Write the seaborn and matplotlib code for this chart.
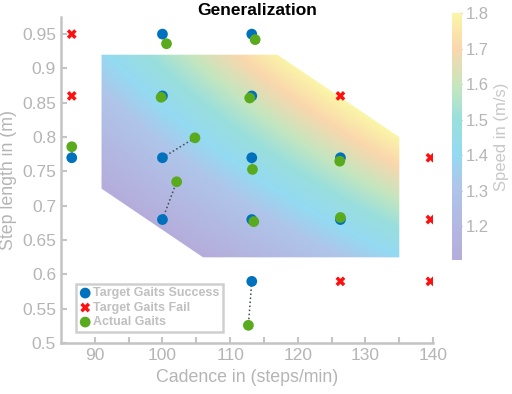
import numpy as np
import matplotlib
matplotlib.use("Agg")
import matplotlib.pyplot as plt
from matplotlib.colors import LinearSegmentedColormap, Normalize
from matplotlib.patches import Polygon
import seaborn as sns

sns.set_theme(style="white")
plt.rcParams['font.family'] = ['Liberation Sans', 'DejaVu Sans']

# --- data ---
# target gaits that worked (cadence steps/min, step length m)
success_cadence = [86.6, 100, 100, 100, 100, 113.2, 113.2, 113.2, 113.2, 113.2, 126.3, 126.3]
success_length = [0.77, 0.95, 0.86, 0.77, 0.68, 0.95, 0.86, 0.77, 0.68, 0.59, 0.77, 0.68]

# actual gaits reached for each successful target (same order)
actual_cadence = [86.6, 100.6, 99.8, 104.8, 102.1, 113.7, 112.9, 113.3, 113.5, 112.7, 126.2, 126.3]
actual_length = [0.786, 0.936, 0.858, 0.799, 0.735, 0.942, 0.857, 0.753, 0.677, 0.526, 0.765, 0.683]

# target gaits that failed
fail_cadence = [86.6, 86.6, 126.3, 139.6, 139.6, 126.3, 139.6]
fail_length = [0.95, 0.86, 0.86, 0.77, 0.68, 0.59, 0.59]

# region the controller was trained on (corners of the shaded area)
train_cadence = [91, 117, 135, 135, 106, 91]
train_length = [0.92, 0.92, 0.80, 0.625, 0.625, 0.725]

speed_ticks = [1.2, 1.3, 1.4, 1.5, 1.6, 1.7, 1.8]
speed_range = (1.105, 1.8)

grey = '#b5b5b5'
blue = '#0072bd'
green = '#5aaa1e'
red = '#ff1010'

# pastel parula-like map as seen on the colourbar
cmap = LinearSegmentedColormap.from_list('pastel_parula', [
    (0.00, '#b5addb'),
    (0.30, '#afc5e9'),
    (0.43, '#94daf2'),
    (0.57, '#9adfdc'),
    (0.70, '#c4e6bf'),
    (0.86, '#fad7ad'),
    (1.00, '#fbf5a8'),
])
norm = Normalize(*speed_range)

fig = plt.figure(figsize=(5.12, 3.94), dpi=100)
ax = fig.add_axes([0.119, 0.129, 0.727, 0.828])
cax = fig.add_axes([0.883, 0.340, 0.0195, 0.627])

# speed field = cadence * step length / 60, shown only inside the trained region
cc, ll = np.meshgrid(np.linspace(85, 140, 300), np.linspace(0.5, 0.975, 300))
speed = cc * ll / 60
img = ax.imshow(speed, extent=(85, 140, 0.5, 0.975), origin='lower', aspect='auto',
                cmap=cmap, norm=norm, interpolation='bilinear', zorder=0)
region = Polygon(np.column_stack([train_cadence, train_length]), closed=True,
                 transform=ax.transData, facecolor='none', edgecolor='none')
ax.add_patch(region)
img.set_clip_path(region)

# dotted links between each target and the gait actually reached
for tc, tl, ac, al in zip(success_cadence, success_length, actual_cadence, actual_length):
    ax.plot([tc, ac], [tl, al], ls=':', color='#404a55', lw=1.1, zorder=2)

sns.scatterplot(x=success_cadence, y=success_length, color=blue, s=60, edgecolor='none',
                label='Target Gaits Success', ax=ax, zorder=3)
sns.scatterplot(x=fail_cadence, y=fail_length, color=red, marker='X', s=50, edgecolor='none',
                label='Target Gaits Fail', ax=ax, zorder=3)
sns.scatterplot(x=actual_cadence, y=actual_length, color=green, s=60, edgecolor='none',
                label='Actual Gaits', ax=ax, zorder=4)

ax.set_xlim(85, 140)
ax.set_ylim(0.5, 0.975)
ax.set_xticks([90, 100, 110, 120, 130, 140])
ax.set_xticks(np.arange(90, 141, 5), minor=True)
ax.set_yticks([0.5, 0.55, 0.6, 0.65, 0.7, 0.75, 0.8, 0.85, 0.9, 0.95])
ax.set_yticklabels(['0.5', '0.55', '0.6', '0.65', '0.7', '0.75', '0.8', '0.85', '0.9', '0.95'])

for side in ['top', 'right']:
    ax.spines[side].set_visible(False)
for side in ['left', 'bottom']:
    ax.spines[side].set_color('#c4c4c4')
    ax.spines[side].set_linewidth(1.8)
ax.tick_params(which='both', direction='in', color='#c4c4c4', width=1.5,
               labelcolor=grey, labelsize=12.5, length=4)
ax.tick_params(axis='y', which='both', left=True)
ax.tick_params(axis='x', which='both', bottom=True)

ax.set_xlabel('Cadence in (steps/min)', color=grey, fontsize=12.8, labelpad=4)
ax.set_ylabel('Step length in (m)', color=grey, fontsize=12.8, labelpad=4)
fig.text(0.502, 0.974, 'Generalization', fontsize=12.5, weight='bold', color='black',
         ha='center', va='center')

leg = ax.legend(loc='lower left', bbox_to_anchor=(0.04, 0.034), borderaxespad=0,
                fancybox=False, handletextpad=0.2, borderpad=0.3,
                labelspacing=0.2, handlelength=0.9, prop={'weight': 'bold', 'size': 9})
leg.get_frame().set_edgecolor('#c4c4c4')
leg.get_frame().set_linewidth(1.8)
for t in leg.get_texts():
    t.set_color('#c0c0c0')

cb = fig.colorbar(img, cax=cax, ticks=speed_ticks)
cb.outline.set_visible(False)
cax.tick_params(labelcolor=grey, color=grey, labelsize=12, length=2, width=1,
                direction='in', pad=3)
cb.set_label('Speed in (m/s)', color='#c8c8c8', fontsize=12, labelpad=3)

fig.savefig('out.png', dpi=100)
